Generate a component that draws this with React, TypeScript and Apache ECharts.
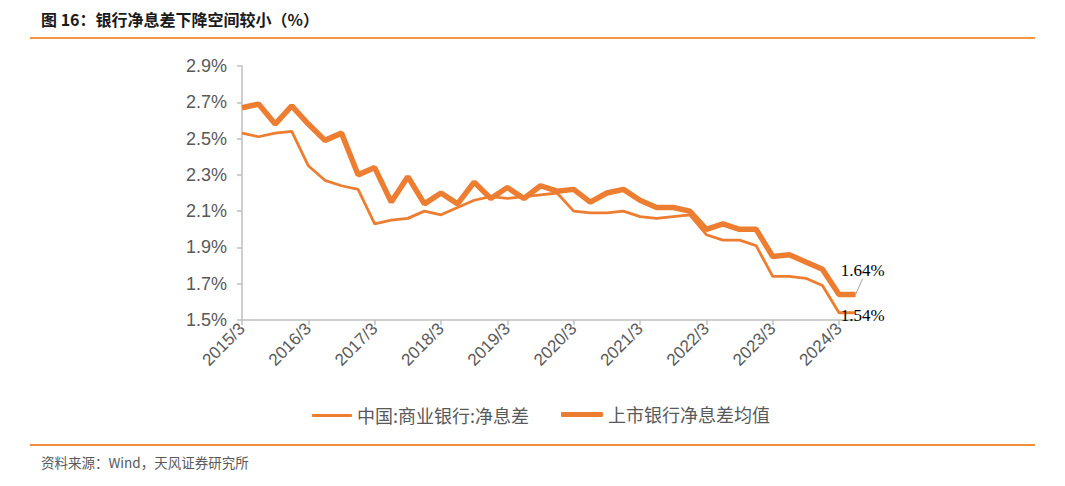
import React, { useEffect, useRef } from "react";
import * as echarts from "echarts";

const categories = [
  "2015/3", "2015/6", "2015/9", "2015/12",
  "2016/3", "2016/6", "2016/9", "2016/12",
  "2017/3", "2017/6", "2017/9", "2017/12",
  "2018/3", "2018/6", "2018/9", "2018/12",
  "2019/3", "2019/6", "2019/9", "2019/12",
  "2020/3", "2020/6", "2020/9", "2020/12",
  "2021/3", "2021/6", "2021/9", "2021/12",
  "2022/3", "2022/6", "2022/9", "2022/12",
  "2023/3", "2023/6", "2023/9", "2023/12",
  "2024/3", "2024/6",
];

const nimCommercialBanks = [
  2.53, 2.51, 2.53, 2.54,
  2.35, 2.27, 2.24, 2.22,
  2.03, 2.05, 2.06, 2.10,
  2.08, 2.12, 2.16, 2.18,
  2.17, 2.18, 2.19, 2.20,
  2.10, 2.09, 2.09, 2.10,
  2.07, 2.06, 2.07, 2.08,
  1.97, 1.94, 1.94, 1.91,
  1.74, 1.74, 1.73, 1.69,
  1.54, 1.54,
];

const nimListedBanks = [
  2.67, 2.69, 2.58, 2.68,
  2.58, 2.49, 2.53, 2.30,
  2.34, 2.15, 2.29, 2.14,
  2.20, 2.14, 2.26, 2.17,
  2.23, 2.17, 2.24, 2.21,
  2.22, 2.15, 2.20, 2.22,
  2.16, 2.12, 2.12, 2.10,
  2.00, 2.03, 2.00, 2.00,
  1.85, 1.86, 1.82, 1.78,
  1.64, 1.64,
];

const yTicks = [1.5, 1.7, 1.9, 2.1, 2.3, 2.5, 2.7, 2.9];
const seriesNames = ["中国:商业银行:净息差", "上市银行净息差均值"];
const endLabelTexts = ["1.54%", "1.64%"];

const titleText = "图 16：银行净息差下降空间较小（%）";
const sourceText = "资料来源：Wind，天风证券研究所";

const ORANGE = "#ED7D31";
const GRAY_TEXT = "#595959";
const AXIS_GRAY = "#BFBFBF";
const CJK = "'Noto Sans CJK SC', 'Noto Sans', sans-serif";
const LATIN = "'Liberation Sans', Arial, sans-serif";

export default function App() {
  const ref = useRef<HTMLDivElement>(null);

  useEffect(() => {
    const chart = echarts.init(ref.current as HTMLDivElement, null, { renderer: "svg" });
    const lastIdx = categories.length - 1;

    const withEndLabel = (arr: number[], text: string) =>
      arr.map((v, i) =>
        i === lastIdx
          ? {
              value: v,
              symbol: "circle",
              symbolSize: 0.01,
              itemStyle: { color: "rgba(0,0,0,0)" },
              label: {
                show: true,
                formatter: text,
              },
            }
          : { value: v, symbol: "none" }
      );

    const legendText = { color: GRAY_TEXT, fontSize: 18, fontFamily: CJK };

    const option: any = {
      animation: false,
      backgroundColor: "#ffffff",
      grid: { left: 242, right: 209.4, top: 66, bottom: 166, containLabel: false },
      xAxis: {
        type: "category",
        data: categories,
        boundaryGap: false,
        axisLine: { lineStyle: { color: AXIS_GRAY, width: 1.5 } },
        axisTick: { interval: 3, length: 5, lineStyle: { color: AXIS_GRAY, width: 1.5 } },
        axisLabel: {
          interval: 3,
          rotate: 45,
          margin: 6,
          color: GRAY_TEXT,
          fontSize: 17,
          fontFamily: LATIN,
        },
        splitLine: { show: false },
      },
      yAxis: {
        type: "value",
        min: 1.5,
        max: 2.9,
        axisLine: { show: true, lineStyle: { color: AXIS_GRAY, width: 1.5 } },
        axisTick: {
          show: true,
          length: 5,
          customValues: yTicks,
          lineStyle: { color: AXIS_GRAY, width: 1.5 },
        },
        axisLabel: {
          customValues: yTicks,
          margin: 15,
          color: GRAY_TEXT,
          fontSize: 18,
          fontFamily: LATIN,
          formatter: (v: number) => v.toFixed(1) + "%",
        },
        splitLine: { show: false },
      },
      legend: [
        {
          left: 307,
          top: 401.5,
          itemWidth: 40,
          itemHeight: 3,
          icon: "roundRect",
          itemStyle: { color: ORANGE },
          textStyle: legendText,
          data: [seriesNames[0]],
        },
        {
          left: 556,
          top: 400.5,
          itemWidth: 42,
          itemHeight: 5,
          icon: "roundRect",
          itemStyle: { color: ORANGE },
          textStyle: legendText,
          data: [seriesNames[1]],
        },
      ],
      series: [
        {
          name: seriesNames[0],
          type: "line",
          data: withEndLabel(nimCommercialBanks, endLabelTexts[0]),
          symbol: "none",
          showSymbol: true,
          showAllSymbol: true,
          lineStyle: { color: ORANGE, width: 2.8 },
          itemStyle: { color: ORANGE },
          label: {
            position: "inside",
            color: "#000000",
            fontSize: 17,
            fontFamily: "'Liberation Serif', 'Times New Roman', serif",
          },
          labelLayout: { dx: 7, dy: 3 },
          emphasis: { disabled: true },
          z: 3,
        },
        {
          name: seriesNames[1],
          type: "line",
          data: withEndLabel(nimListedBanks, endLabelTexts[1]),
          symbol: "none",
          showSymbol: true,
          showAllSymbol: true,
          lineStyle: { color: ORANGE, width: 5.5 },
          itemStyle: { color: ORANGE },
          label: {
            position: "top",
            distance: 5,
            color: "#000000",
            fontSize: 17,
            fontFamily: "'Liberation Serif', 'Times New Roman', serif",
          },
          labelLine: { show: true, lineStyle: { color: "#A6A6A6", width: 1 } },
          labelLayout: { dx: 7, dy: -11 },
          emphasis: { disabled: true },
          z: 2,
        },
      ],
      graphic: [
        {
          type: "text",
          left: 41,
          top: 11,
          style: {
            text: titleText,
            fill: "#1a1a1a",
            font: `bold 16px ${CJK}`,
          },
        },
        {
          type: "rect",
          shape: { x: 30, y: 37, width: 1005, height: 2 },
          style: { fill: "#F79646" },
        },
        {
          type: "rect",
          shape: { x: 30, y: 444, width: 1005, height: 2 },
          style: { fill: "#F08C3C" },
        },
        {
          type: "text",
          left: 41,
          top: 455,
          style: {
            text: sourceText,
            fill: GRAY_TEXT,
            font: `13.5px ${CJK}`,
          },
        },
      ],
    };

    chart.setOption(option);
    return () => {
      chart.dispose();
    };
  }, []);

  return (
    <div
      ref={ref}
      style={{ position: "absolute", left: 0, top: 0, width: 1065, height: 486, background: "#fff" }}
    />
  );
}
